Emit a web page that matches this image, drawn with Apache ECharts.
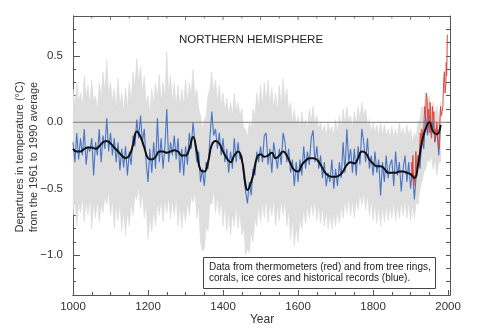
<!DOCTYPE html>
<html>
<head>
<meta charset="utf-8">
<script src="https://cdn.jsdelivr.net/npm/echarts@6/dist/echarts.min.js"></script>
<style>
html,body{margin:0;padding:0;background:#fff;}
#chart{width:480px;height:334px;}
</style>
</head>
<body>
<div id="chart"></div>
<script>
// ---- Data ----
const titleText = 'NORTHERN HEMISPHERE';
const yTitle1 = 'Departures in temperature (\u00B0C)';
const yTitle2 = 'from the 1961 to 1990 average';
const xTitle = 'Year';
const noteLine1 = 'Data from thermometers (red) and from tree rings,';
const noteLine2 = 'corals, ice cores and historical records (blue).';

const xMin = 1000, xMax = 2005, yMin = -1.3, yMax = 0.8;
const xLabelValues = [1000, 1200, 1400, 1600, 1800, 2000];
const xMinorTicks = [1050,1100,1150,1250,1300,1350,1450,1500,1550,1650,1700,1750,1850,1900,1950];
const xTopTicks = [1100,1200,1300,1400,1500,1600,1700,1800,1900];
const xTopMinorTicks = [1050,1150,1250,1350,1450,1550,1650,1750,1850,1950];
const yLabelValues = [-1.0, -0.5, 0.0, 0.5];
const yMinorTicks = [-1.2,-1.1,-0.9,-0.8,-0.7,-0.6,-0.4,-0.3,-0.2,-0.1,0.1,0.2,0.3,0.4,0.6,0.7];
const yRightTicks = [-1.2,-1.1,-1.0,-0.9,-0.8,-0.7,-0.6,-0.5,-0.4,-0.3,-0.2,-0.1,0.0,0.1,0.2,0.3,0.4,0.5,0.6,0.7];

// Proxy (blue) reconstruction, sampled every 5 years from 1000 to 1980
const proxyYears = [
1000,1005,1010,1015,1020,1025,1030,1035,1040,1045,
1050,1055,1060,1065,1070,1075,1080,1085,1090,1095,
1100,1105,1110,1115,1120,1125,1130,1135,1140,1145,
1150,1155,1160,1165,1170,1175,1180,1185,1190,1195,
1200,1205,1210,1215,1220,1225,1230,1235,1240,1245,
1250,1255,1260,1265,1270,1275,1280,1285,1290,1295,
1300,1305,1310,1315,1320,1325,1330,1335,1340,1345,
1350,1355,1360,1365,1370,1375,1380,1385,1390,1395,
1400,1405,1410,1415,1420,1425,1430,1435,1440,1445,
1450,1455,1460,1465,1470,1475,1480,1485,1490,1495,
1500,1505,1510,1515,1520,1525,1530,1535,1540,1545,
1550,1555,1560,1565,1570,1575,1580,1585,1590,1595,
1600,1605,1610,1615,1620,1625,1630,1635,1640,1645,
1650,1655,1660,1665,1670,1675,1680,1685,1690,1695,
1700,1705,1710,1715,1720,1725,1730,1735,1740,1745,
1750,1755,1760,1765,1770,1775,1780,1785,1790,1795,
1800,1805,1810,1815,1820,1825,1830,1835,1840,1845,
1850,1855,1860,1865,1870,1875,1880,1885,1890,1895,
1900,1905,1910,1915,1920,1925,1930,1935,1940,1945,
1950,1955,1960,1965,1970,1975,1980];
const proxyValues = [
-0.15,-0.30,-0.08,-0.28,-0.12,-0.25,-0.05,-0.32,-0.18,-0.22,
-0.12,-0.40,-0.15,-0.25,-0.05,-0.30,-0.10,-0.20,0.03,-0.22,
-0.08,-0.25,-0.12,-0.30,-0.15,-0.36,-0.20,-0.34,-0.18,-0.40,
-0.22,-0.32,-0.10,-0.18,0.02,-0.12,0.05,-0.15,-0.05,-0.30,
-0.45,-0.20,-0.38,-0.15,-0.35,0.03,-0.30,-0.12,-0.35,-0.18,
0.10,-0.30,-0.15,-0.25,-0.10,-0.28,-0.12,-0.38,-0.20,-0.40,
-0.18,-0.32,-0.08,-0.20,0.00,-0.15,-0.30,-0.22,-0.45,-0.35,
-0.48,-0.30,-0.35,-0.12,0.08,-0.10,-0.05,-0.20,-0.08,-0.25,
-0.12,-0.30,-0.20,-0.38,-0.22,-0.35,-0.12,-0.30,-0.15,-0.28,
-0.25,-0.40,-0.52,-0.61,-0.45,-0.55,-0.35,-0.40,-0.22,-0.30,
-0.18,-0.30,-0.10,-0.08,-0.32,-0.20,-0.38,-0.15,-0.25,-0.35,
-0.20,-0.32,-0.08,-0.15,-0.30,-0.20,-0.38,-0.28,-0.48,-0.30,
-0.45,-0.28,-0.40,-0.18,-0.35,-0.22,-0.32,-0.12,-0.06,-0.30,
-0.18,-0.35,-0.25,-0.42,-0.30,-0.48,-0.38,-0.45,-0.28,-0.50,
-0.35,-0.48,-0.30,-0.42,-0.15,-0.38,-0.05,-0.30,-0.20,-0.38,
-0.20,-0.40,-0.18,-0.32,-0.05,-0.15,-0.30,-0.12,-0.35,-0.25,
-0.40,-0.22,-0.38,-0.28,-0.55,-0.30,-0.45,-0.25,-0.42,-0.32,
-0.28,-0.48,-0.22,-0.40,-0.30,-0.52,-0.35,-0.25,-0.45,-0.30,
-0.50,-0.35,-0.58,-0.40,-0.25,-0.35,-0.12,-0.20,0.05,-0.10,
0.05,-0.10,0.02,-0.15,-0.05,-0.25,-0.02];

// Smoothed (40-year) reconstruction, black
const smoothYears = [
1000,1010,1020,1030,1040,1050,1060,1070,1080,1090,
1100,1110,1120,1130,1140,1150,1160,1170,1180,1190,
1200,1210,1220,1230,1240,1250,1260,1270,1280,1290,
1300,1310,1320,1330,1340,1350,1360,1370,1380,1390,
1400,1410,1420,1430,1440,1450,1460,1465,1470,1480,1490,
1500,1510,1520,1530,1540,1550,1560,1570,1580,1590,
1600,1610,1620,1630,1640,1650,1660,1670,1680,1690,
1700,1710,1720,1730,1740,1750,1760,1770,1780,1790,
1800,1810,1820,1830,1840,1850,1860,1870,1880,1890,
1900,1910,1920,1930,1940,1950,1960,1970,1980];
const smoothValues = [
-0.20,-0.22,-0.22,-0.20,-0.19,-0.19,-0.20,-0.18,-0.15,-0.14,
-0.16,-0.19,-0.22,-0.25,-0.27,-0.25,-0.17,-0.07,-0.11,-0.19,
-0.27,-0.28,-0.26,-0.22,-0.22,-0.23,-0.22,-0.21,-0.22,-0.25,
-0.25,-0.20,-0.11,-0.22,-0.36,-0.37,-0.30,-0.17,-0.14,-0.16,
-0.22,-0.27,-0.30,-0.25,-0.22,-0.28,-0.47,-0.51,-0.49,-0.40,-0.27,
-0.24,-0.26,-0.25,-0.23,-0.27,-0.25,-0.22,-0.25,-0.31,-0.36,
-0.37,-0.32,-0.29,-0.27,-0.27,-0.28,-0.32,-0.37,-0.40,-0.41,
-0.41,-0.40,-0.37,-0.32,-0.30,-0.31,-0.27,-0.22,-0.23,-0.28,
-0.31,-0.33,-0.33,-0.35,-0.38,-0.38,-0.38,-0.37,-0.37,-0.38,
-0.39,-0.42,-0.32,-0.15,-0.05,0.00,-0.07,-0.09,-0.02];

// Instrumental record (red)
const thermoYears = [
1902,1904,1906,1908,1910,1912,1914,1916,1918,1920,
1922,1924,1926,1928,1930,1932,1934,1936,1938,1940,
1942,1944,1946,1948,1950,1952,1954,1956,1958,1960,
1962,1964,1966,1968,1970,1972,1974,1976,1978,1980,
1982,1984,1986,1988,1990,1992,1994,1995,1996,1997,1998];
const thermoValues = [
-0.30,-0.42,-0.25,-0.45,-0.40,-0.48,-0.22,-0.35,-0.38,-0.25,
-0.28,-0.20,-0.08,-0.18,-0.05,-0.10,-0.15,0.02,0.12,0.05,
0.22,0.18,-0.05,0.10,-0.08,0.15,-0.05,-0.12,0.12,0.02,
0.08,-0.15,-0.05,-0.10,0.00,-0.08,-0.15,-0.20,0.00,0.12,
0.05,0.08,0.12,0.30,0.38,0.22,0.28,0.45,0.35,0.48,0.66];

// Uncertainty range (grey), same 5-year sampling as the proxy series
const bandYears = proxyYears;
const bandUpper = [
0.25,0.12,0.30,0.15,0.22,0.10,0.35,0.18,0.28,0.12,
0.32,0.15,0.20,0.08,0.30,0.18,0.38,0.22,0.47,0.20,
0.30,0.15,0.25,0.10,0.33,0.12,0.22,0.08,0.26,0.10,
0.30,0.15,0.38,0.25,0.48,0.30,0.42,0.22,0.35,0.12,
0.20,0.05,0.25,0.12,0.30,0.18,0.36,0.15,0.30,0.18,
0.53,0.20,0.35,0.15,0.30,0.12,0.28,0.10,0.25,0.12,
0.32,0.15,0.30,0.20,0.40,0.18,0.25,0.10,0.05,-0.05,
0.02,0.05,0.20,0.25,0.38,0.22,0.32,0.15,0.28,0.12,
0.22,0.08,0.18,0.05,0.15,0.05,0.22,0.08,0.15,0.05,
0.10,-0.05,-0.05,-0.12,0.00,-0.05,0.10,0.05,0.22,0.10,
0.28,0.12,0.30,0.15,0.32,0.12,0.26,0.10,0.22,0.08,
0.28,0.12,0.33,0.15,0.25,0.08,0.15,0.00,0.10,-0.02,
0.05,-0.05,0.08,-0.02,0.02,-0.05,0.10,0.00,0.12,-0.02,
0.05,-0.05,0.00,-0.08,-0.02,-0.10,0.00,-0.08,-0.03,-0.10,
0.02,-0.08,0.05,-0.05,0.10,-0.02,0.12,0.00,0.05,-0.05,
0.08,-0.02,0.12,0.02,0.15,0.05,0.10,-0.02,0.02,-0.08,
0.00,-0.08,-0.02,-0.10,0.00,-0.10,-0.02,-0.10,-0.05,-0.12,
-0.03,-0.12,-0.05,-0.12,0.00,-0.10,-0.04,-0.12,-0.02,-0.10,
-0.05,-0.15,-0.08,-0.12,0.00,0.02,0.12,0.10,0.22,0.12,
0.20,0.08,0.15,0.05,0.12,0.02,0.15];
const bandLower = [
-0.70,-0.58,-0.78,-0.60,-0.68,-0.55,-0.75,-0.58,-0.70,-0.56,
-0.80,-0.60,-0.72,-0.58,-0.75,-0.62,-0.68,-0.55,-0.62,-0.52,
-0.70,-0.58,-0.80,-0.62,-0.74,-0.60,-0.82,-0.65,-0.85,-0.66,
-0.78,-0.60,-0.70,-0.55,-0.58,-0.48,-0.65,-0.52,-0.72,-0.60,
-0.88,-0.70,-0.82,-0.65,-0.78,-0.60,-0.70,-0.58,-0.75,-0.58,
-0.68,-0.56,-0.72,-0.58,-0.70,-0.56,-0.78,-0.62,-0.80,-0.64,
-0.75,-0.60,-0.70,-0.56,-0.60,-0.52,-0.72,-0.62,-0.90,-0.97,
-0.95,-0.78,-0.82,-0.60,-0.62,-0.50,-0.68,-0.55,-0.70,-0.58,
-0.78,-0.62,-0.82,-0.66,-0.85,-0.68,-0.78,-0.62,-0.80,-0.66,
-0.85,-0.78,-1.00,-0.95,-0.98,-0.82,-0.90,-0.72,-0.78,-0.62,
-0.75,-0.60,-0.72,-0.56,-0.75,-0.60,-0.70,-0.58,-0.78,-0.62,
-0.74,-0.58,-0.70,-0.58,-0.78,-0.65,-0.88,-0.72,-0.93,-0.78,
-0.90,-0.72,-0.80,-0.65,-0.76,-0.62,-0.72,-0.60,-0.70,-0.58,
-0.74,-0.62,-0.76,-0.64,-0.78,-0.66,-0.80,-0.68,-0.80,-0.68,
-0.78,-0.66,-0.76,-0.62,-0.72,-0.58,-0.68,-0.56,-0.70,-0.58,
-0.72,-0.58,-0.66,-0.54,-0.62,-0.52,-0.66,-0.54,-0.70,-0.58,
-0.74,-0.60,-0.76,-0.62,-0.78,-0.62,-0.75,-0.62,-0.74,-0.62,
-0.72,-0.60,-0.74,-0.62,-0.72,-0.60,-0.70,-0.58,-0.72,-0.60,
-0.74,-0.62,-0.72,-0.60,-0.62,-0.50,-0.45,-0.38,-0.35,-0.28,
-0.30,-0.25,-0.35,-0.28,-0.40,-0.30,-0.30];

// ---- Build series data ----
const pairs = (xs, ys) => xs.map((x, i) => [x, ys[i]]);

const FONT = '"Liberation Sans", Arial, Helvetica, sans-serif';
const AX = '#555';
const fmtY = v => {
  const r = Math.round(v * 10) / 10;
  return (r < 0 ? '\u2212' : '') + Math.abs(r).toFixed(1);
};

const chart = echarts.init(document.getElementById('chart'), null, {renderer: 'canvas'});

function xAxisDef(position, tickValues, tickLen, showLabels) {
  return {
    type: 'value', min: xMin, max: xMax, position: position,
    splitLine: {show: false},
    axisLine: {show: true, onZero: false, lineStyle: {color: AX, width: 1}},
    axisTick: {show: true, inside: true, length: tickLen, customValues: tickValues.slice(), lineStyle: {color: AX, width: 1}},
    axisLabel: showLabels
      ? {show: true, customValues: xLabelValues.slice(), margin: 6, color: '#333', fontSize: 11.5, fontFamily: FONT,
         formatter: v => String(Math.round(v))}
      : {show: false}
  };
}
function yAxisDef(position, tickValues, tickLen, showLabels) {
  return {
    type: 'value', min: yMin, max: yMax, position: position,
    splitLine: {show: false},
    axisLine: {show: true, onZero: false, lineStyle: {color: AX, width: 1}},
    axisTick: {show: true, inside: true, length: tickLen, customValues: tickValues.slice(), lineStyle: {color: AX, width: 1}},
    axisLabel: showLabels
      ? {show: true, customValues: yLabelValues.slice(), margin: 10, color: '#333', fontSize: 11.5, fontFamily: FONT,
         formatter: fmtY}
      : {show: false}
  };
}

function renderBand(params, api) {
  const upper = bandYears.map((y, i) => api.coord([y, bandUpper[i]]));
  const lower = bandYears.map((y, i) => api.coord([y, bandLower[i]])).reverse();
  return {
    type: 'polygon',
    shape: {points: upper.concat(lower)},
    style: {fill: '#dedede', stroke: '#d8d8d8', lineWidth: 0.6}
  };
}

// top frame ticks, placed through the axes' scales at the top of the value range
const topTickData = xTopTicks.map(x => [x, yMax]);
const topMinorTickData = xTopMinorTicks.map(x => [x, yMax]);

chart.setOption({
  animation: false,
  backgroundColor: '#ffffff',
  grid: {left: 73, right: 30, top: 16, bottom: 39},
  xAxis: [
    xAxisDef('bottom', xLabelValues, 5, true),
    xAxisDef('bottom', xMinorTicks, 3, false)
  ],
  yAxis: [
    yAxisDef('left', yLabelValues, 7, true),
    yAxisDef('left', yMinorTicks, 3, false),
    yAxisDef('right', yRightTicks, 4, false)
  ],
  series: [
    {name: 'band', type: 'custom', renderItem: renderBand, clip: true, silent: true, z: 1,
      data: [[bandYears[0], bandLower[0]]], encode: {x: 0, y: 1}},
    {name: 'zero', type: 'line', data: [[xMin, 0], [xMax, 0]], symbol: 'none', silent: true, z: 2, clip: false,
      lineStyle: {color: '#877c6c', width: 1},
      markLine: {silent: true, symbol: ['none', 'none'], label: {show: false}, animation: false,
        lineStyle: {color: AX, width: 1, type: 'solid'}, emphasis: {disabled: true},
        data: [{yAxis: yMax}]}},
    {name: 'proxy', type: 'line', data: pairs(proxyYears, proxyValues), symbol: 'none',
      lineStyle: {color: '#4a74c4', width: 1.1}, z: 3},
    {name: 'thermo', type: 'line', data: pairs(thermoYears, thermoValues), symbol: 'none',
      lineStyle: {color: '#e0493c', width: 1}, z: 4},
    {name: 'smooth', type: 'line', data: pairs(smoothYears, smoothValues), symbol: 'none', smooth: 0.5,
      lineStyle: {color: '#111', width: 2}, z: 5},
    {name: 'topTicks', type: 'scatter', data: topTickData, symbol: 'rect', symbolSize: [1, 4],
      symbolOffset: [0, 2], itemStyle: {color: AX}, silent: true, clip: false, z: 6},
    {name: 'topMinorTicks', type: 'scatter', data: topMinorTickData, symbol: 'rect', symbolSize: [1, 2.5],
      symbolOffset: [0, 1.25], itemStyle: {color: AX}, silent: true, clip: false, z: 6}
  ],
  graphic: [
    {type: 'text', x: 251, y: 40, style: {text: titleText, fill: '#222', font: '11.5px ' + FONT,
      textAlign: 'center', textVerticalAlign: 'middle'}},
    {type: 'text', x: 20, y: 157, rotation: Math.PI / 2, style: {text: yTitle1, fill: '#333', font: '11px ' + FONT,
      textAlign: 'center', textVerticalAlign: 'middle'}},
    {type: 'text', x: 34, y: 157, rotation: Math.PI / 2, style: {text: yTitle2, fill: '#333', font: '11px ' + FONT,
      textAlign: 'center', textVerticalAlign: 'middle'}},
    {type: 'text', x: 262, y: 320, style: {text: xTitle, fill: '#333', font: '12px ' + FONT,
      textAlign: 'center', textVerticalAlign: 'middle'}},
    {type: 'rect', shape: {x: 203.5, y: 257.5, width: 232, height: 31}, z: 10,
      style: {fill: '#fff', stroke: '#444', lineWidth: 1}},
    {type: 'text', x: 209, y: 267.5, z: 11, style: {text: noteLine1, fill: '#222', font: '10px ' + FONT,
      textAlign: 'left', textVerticalAlign: 'middle'}},
    {type: 'text', x: 209, y: 278.5, z: 11, style: {text: noteLine2, fill: '#222', font: '10px ' + FONT,
      textAlign: 'left', textVerticalAlign: 'middle'}}
  ]
});
</script>
</body>
</html>
